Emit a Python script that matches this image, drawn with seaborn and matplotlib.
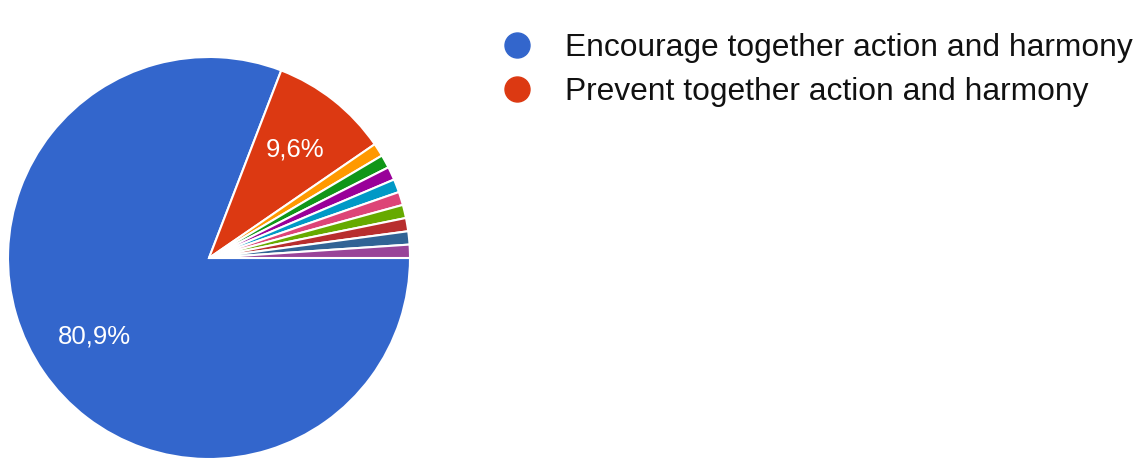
import matplotlib.pyplot as plt
from matplotlib.lines import Line2D
import seaborn as sns

sns.set_style('white')
plt.rcParams['font.family'] = ['Liberation Sans', 'DejaVu Sans']

# answers (1 response each for the small options)
labels = ['Encourage together action and harmony', 'Prevent together action and harmony',
          'Other 1', 'Other 2', 'Other 3', 'Other 4', 'Other 5', 'Other 6', 'Other 7', 'Other 8', 'Other 9']
counts = [76, 9, 1, 1, 1, 1, 1, 1, 1, 1, 1]
colors = ['#3366cc', '#dc3912', '#ff9900', '#109618', '#990099', '#0099c6',
          '#dd4477', '#66aa00', '#b82e2e', '#316395', '#994499']
legend_shown = 2

fig = plt.figure(figsize=(11.4, 4.58), dpi=100)
ax = fig.add_axes([(209 - 201) / 1140, (200 - 201) / 458, 402 / 1140, 402 / 458])


def pct_label(p):
    return ('%.1f%%' % p).replace('.', ',') if p > 5 else ''


wedges, texts, autotexts = ax.pie(counts, colors=colors, startangle=0, counterclock=False,
                                  autopct=pct_label, pctdistance=0.69,
                                  wedgeprops=dict(edgecolor='white', linewidth=1.5),
                                  textprops=dict(color='white', fontsize=18.5), radius=1.0)
ax.set_xlim(-1, 1)
ax.set_ylim(-1, 1)
ax.set_aspect('equal')
ax.axis('off')

handles = [Line2D([], [], marker='o', linestyle='', markersize=18, color=c) for c in colors[:legend_shown]]
fig.legend(handles, labels[:legend_shown], loc='upper left', bbox_to_anchor=(498 / 1140, 1 - 33 / 458),
           frameon=False, fontsize=22.9, handlelength=1.2, handletextpad=0.9, labelspacing=0.43,
           borderpad=0, borderaxespad=0, labelcolor='#111111')

fig.savefig('out.png', dpi=100)
